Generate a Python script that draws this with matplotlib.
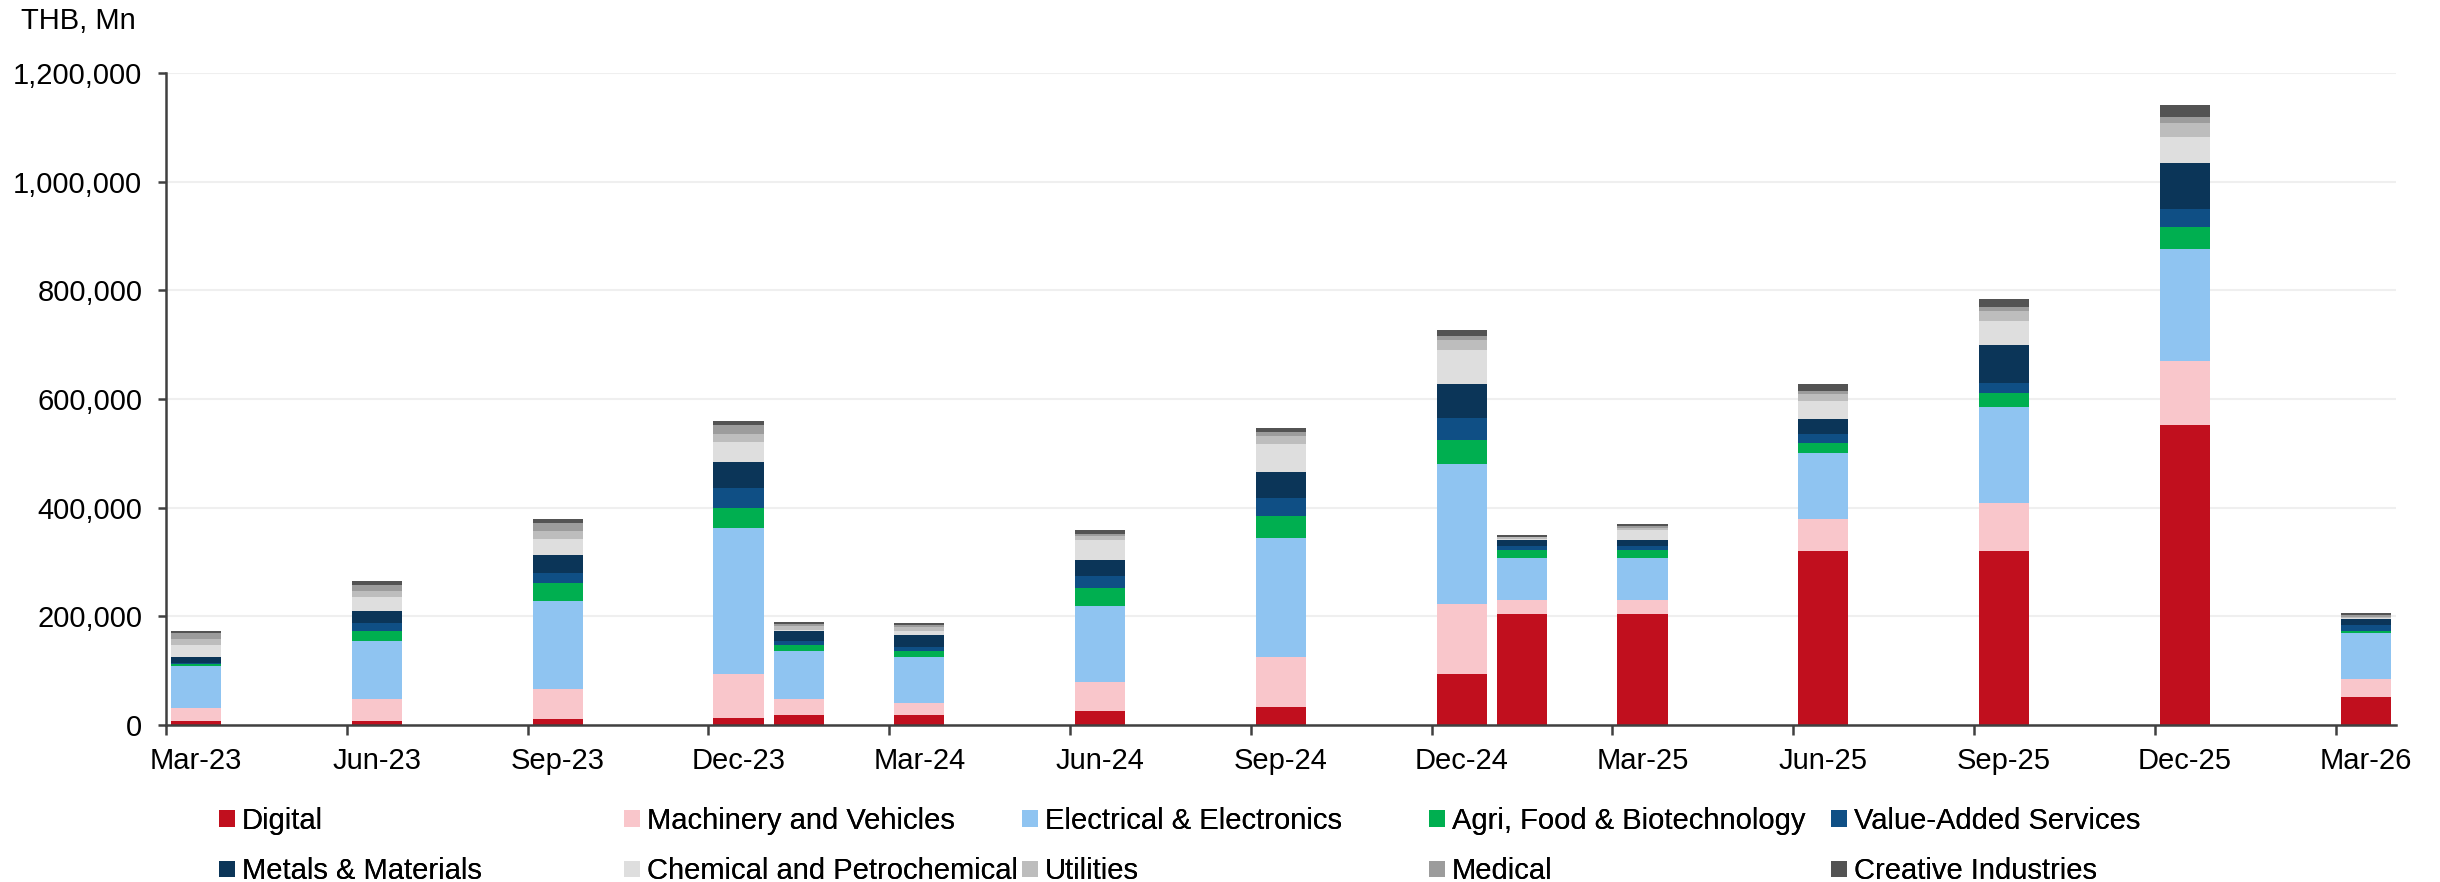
import matplotlib
matplotlib.use('Agg')
import matplotlib.pyplot as plt
import pandas as pd
import numpy as np

plt.rcParams['font.family'] = ['Liberation Sans', 'DejaVu Sans']

# periods with data (THB Mn)
periods = ['Mar-23', 'Jun-23', 'Sep-23', 'Dec-23', 'Jan-24', 'Mar-24', 'Jun-24', 'Sep-24',
           'Dec-24', 'Jan-25', 'Mar-25', 'Jun-25', 'Sep-25', 'Dec-25', 'Mar-26']

digital = [8000, 7000, 11000, 12000, 19000, 19000, 26500, 34000, 93000, 204000, 204000, 320000, 320000, 552000, 51000]
machinery = [22500, 41000, 55000, 81000, 29500, 22000, 52000, 92000, 129000, 26000, 26000, 59000, 88000, 118000, 34000]
electrical = [77500, 106000, 162000, 269500, 88500, 85000, 140000, 218000, 258500, 77500, 77500, 121000, 177000, 206000, 84500]
agri = [3500, 19000, 33000, 37000, 11000, 11000, 33000, 40500, 44000, 14800, 14800, 19000, 26000, 40000, 3700]
value_added = [3500, 15000, 18000, 37000, 7400, 7400, 22000, 33000, 40500, 7400, 7400, 15700, 18000, 33000, 11000]
metals = [11000, 22000, 33000, 48000, 18500, 22000, 29500, 48000, 63000, 11000, 11000, 28000, 70000, 85000, 11000]
chemical = [22000, 25500, 29500, 37000, 1000, 7400, 37000, 51500, 63000, 1000, 18500, 33000, 44000, 48000, 2000]
utilities = [11000, 11000, 15000, 15000, 7400, 7400, 7400, 15000, 18500, 3700, 3700, 14000, 19000, 26000, 2000]
medical = [10500, 11000, 15500, 15000, 3700, 3700, 3700, 7400, 7400, 1000, 3700, 4700, 7000, 11000, 3700]
creative = [4200, 7000, 6500, 7400, 3700, 3700, 7400, 7400, 11000, 3700, 3700, 14000, 15000, 22000, 3700]

series_names = ['Digital', 'Machinery and Vehicles', 'Electrical & Electronics',
                'Agri, Food & Biotechnology', 'Value-Added Services', 'Metals & Materials',
                'Chemical and Petrochemical', 'Utilities', 'Medical', 'Creative Industries']
series_colors = ['#C10F1E', '#F9C6CB', '#8FC4F1', '#00AF50', '#0F4F85',
                 '#0B3558', '#DEDEDE', '#BDBDBD', '#9C9C9C', '#535353']

tick_labels = ['Mar-23', 'Jun-23', 'Sep-23', 'Dec-23', 'Mar-24', 'Jun-24', 'Sep-24',
               'Dec-24', 'Mar-25', 'Jun-25', 'Sep-25', 'Dec-25', 'Mar-26']

# month index counted from Mar-23 (date axis, one slot per month)
def month_idx(labels):
    d = pd.to_datetime(labels, format='%b-%y')
    return np.array((d.year - 2023) * 12 + d.month - 3)

x = month_idx(periods)
tick_x = month_idx(tick_labels)

fig = plt.figure(figsize=(24.4, 8.82), dpi=100)
ax = fig.add_axes([0.068, 0.178, 0.9139, 0.7392])

values = [digital, machinery, electrical, agri, value_added, metals,
          chemical, utilities, medical, creative]
bottom = np.zeros(len(periods))
handles = []
for name, vals, col in zip(series_names, values, series_colors):
    b = ax.bar(x, vals, width=0.833, bottom=bottom, color=col, label=name, zorder=2)
    handles.append(b)
    bottom += np.array(vals)

ax.set_xlim(-0.5, 36.5)
ax.set_ylim(0, 1200000)
ax.set_yticks(np.arange(0, 1200001, 200000))
ax.set_yticklabels([f'{v:,.0f}' for v in np.arange(0, 1200001, 200000)])
ax.yaxis.grid(True, color='#EFEFEF', linewidth=1.5, zorder=0)
ax.set_axisbelow(True)

# ticks on month boundaries, labels centred in the month
ax.set_xticks(tick_x - 0.5)
ax.set_xticklabels([''] * len(tick_x))
ax.set_xticks(tick_x, minor=True)
ax.set_xticklabels(tick_labels, minor=True)
ax.tick_params(axis='x', which='major', length=7, width=1.8, color='#404040')
ax.tick_params(axis='x', which='minor', length=0, pad=16, labelsize=21)
ax.tick_params(axis='y', length=6, width=1.8, color='#404040', pad=11, labelsize=21)

for s in ['top', 'right']:
    ax.spines[s].set_visible(False)
for s in ['left', 'bottom']:
    ax.spines[s].set_color('#404040')
    ax.spines[s].set_linewidth(1.8)

fig.text(21 / 2440, 1 - 29 / 882, 'THB, Mn', fontsize=21, ha='left', va='baseline')

# legend: five columns of two entries
col_left = [219, 624, 1022, 1429, 1831]
for i, xl in enumerate(col_left):
    leg = fig.legend([handles[i], handles[i + 5]], [series_names[i], series_names[i + 5]],
                     loc='center left', bbox_to_anchor=(xl / 2440, 1 - 846 / 882),
                     frameon=False, fontsize=21, borderpad=0, borderaxespad=0,
                     handlelength=0.55, handleheight=0.48, handletextpad=0.24,
                     labelspacing=0.77)
    fig.add_artist(leg)

fig.savefig('out.png', dpi=100)
plt.close()
